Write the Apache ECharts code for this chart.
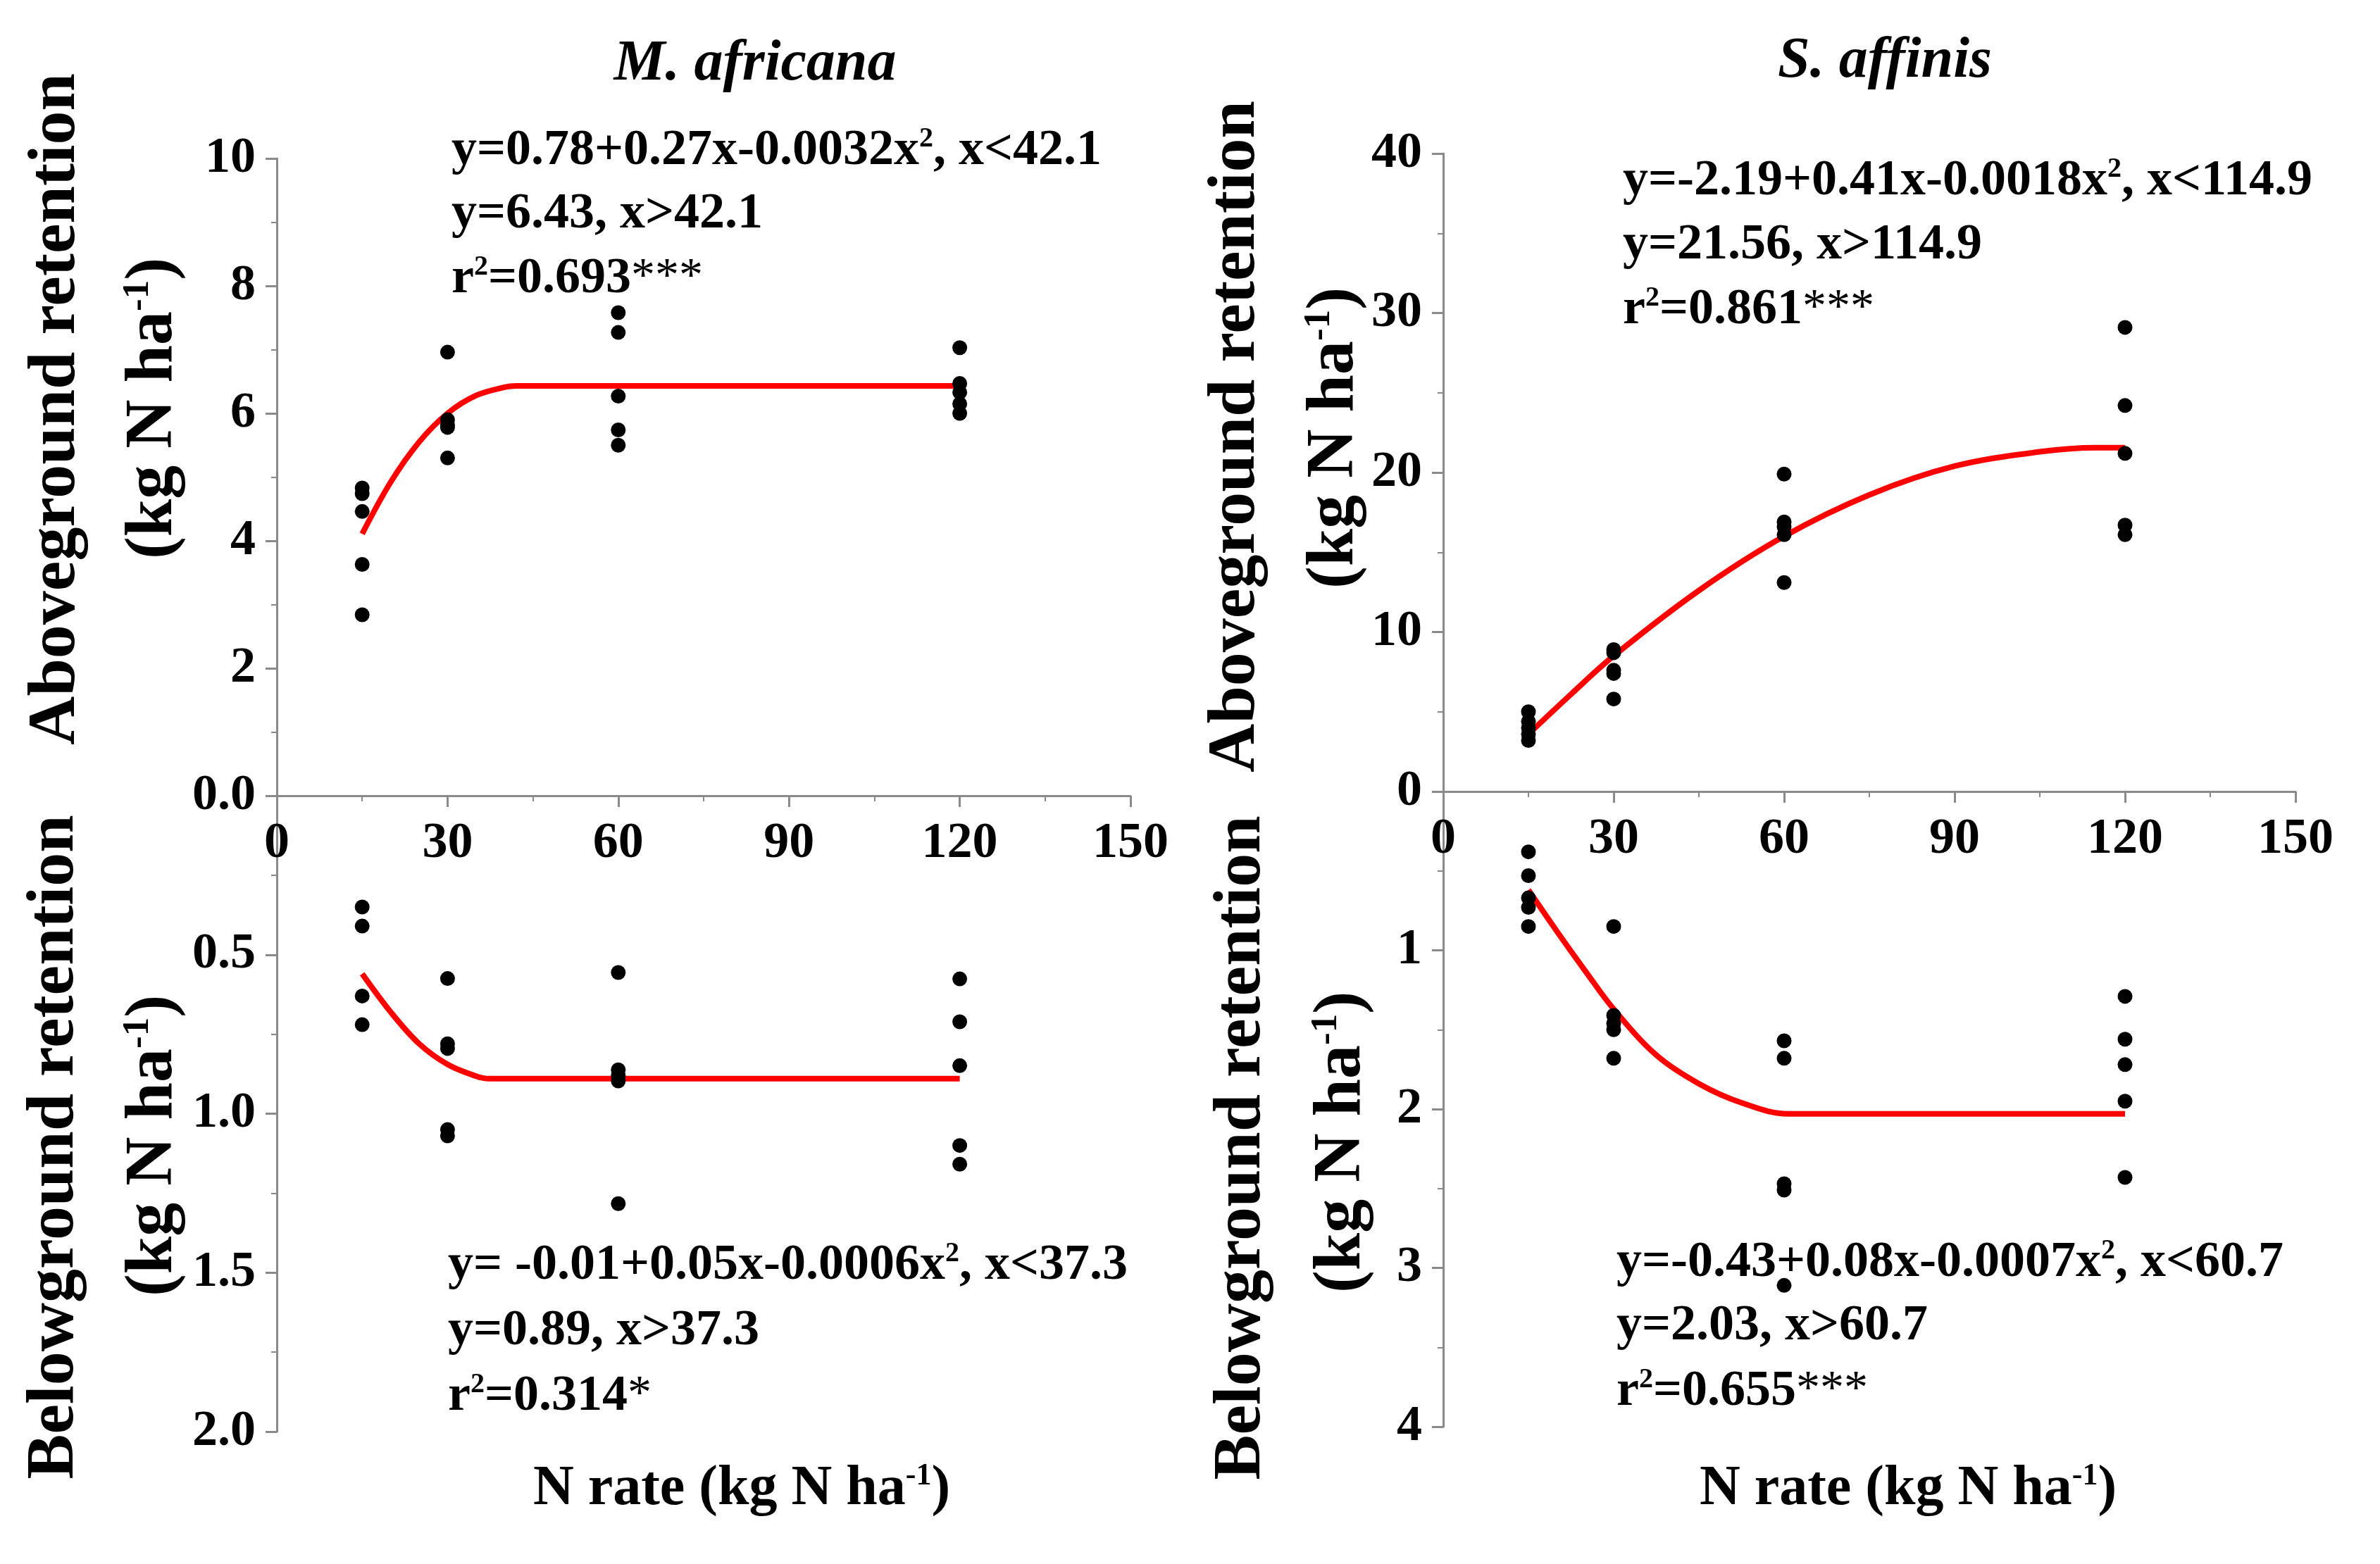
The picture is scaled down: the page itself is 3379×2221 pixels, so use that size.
<!DOCTYPE html>
<html>
<head>
<meta charset="utf-8">
<title>N retention</title>
<script src="https://cdn.jsdelivr.net/npm/echarts@6/dist/echarts.min.js"></script>
<style>
html, body { margin: 0; padding: 0; background: #fff; }
#chart-container { width: 3379px; height: 2221px; }
</style>
</head>
<body>
<div id="chart-container"></div>
<script>
// N rates (x) used for every panel
var nRates = [15, 30, 60, 120];

// observed points, one row per N rate
var maAbove = [
  [4.83, 4.74, 4.46, 3.63, 2.84],
  [6.96, 5.90, 5.82, 5.78, 5.30],
  [7.58, 7.27, 6.27, 5.74, 5.50],
  [7.03, 6.47, 6.33, 6.15, 6.00]
];
var maBelow = [
  [0.35, 0.41, 0.63, 0.72],
  [0.575, 0.78, 0.795, 1.05, 1.07],
  [0.556, 0.862, 0.881, 0.897, 1.283],
  [0.576, 0.711, 0.849, 1.10, 1.159]
];
var saAbove = [
  [5.0, 4.4, 4.0, 3.6, 3.2],
  [8.9, 8.7, 7.6, 7.4, 5.8],
  [19.9, 16.9, 16.6, 16.1, 13.1],
  [29.1, 24.2, 21.2, 16.7, 16.1]
];
var saBelow = [
  [0.38, 0.53, 0.67, 0.73, 0.85],
  [0.85, 1.41, 1.46, 1.50, 1.68],
  [1.57, 1.68, 2.47, 2.51, 3.11],
  [1.29, 1.56, 1.72, 1.95, 2.43]
];

// fitted curves
var maAboveFitX = [15, 20, 25, 30, 35, 40, 42.1, 120];
var maAboveFitY = [4.11, 4.92, 5.55, 6.00, 6.28, 6.41, 6.43, 6.43];
var maBelowFitX = [15, 20, 25, 30, 35, 37.3, 120];
var maBelowFitY = [0.56, 0.68, 0.78, 0.845, 0.882, 0.89, 0.89];
var saAboveFitX = [15, 22.5, 30, 45, 60, 75, 90, 105, 114.9, 120];
var saAboveFitY = [3.6, 6.1, 8.5, 12.6, 16.0, 18.6, 20.4, 21.3, 21.56, 21.56];
var saBelowFitX = [15, 20, 25, 30, 37.5, 45, 52.5, 60.7, 120];
var saBelowFitY = [0.62, 0.88, 1.13, 1.37, 1.66, 1.84, 1.96, 2.03, 2.03];

// tick values and labels
var maAboveTickVals = [0, 2, 4, 6, 8, 10];
var maAboveTickText = ['0.0', '2', '4', '6', '8', '10'];
var maBelowTickVals = [0, 0.5, 1, 1.5, 2];
var maBelowTickText = ['0.0', '0.5', '1.0', '1.5', '2.0'];
var saAboveTickVals = [0, 10, 20, 30, 40];
var saAboveTickText = ['0', '10', '20', '30', '40'];
var saBelowTickVals = [0, 1, 2, 3, 4];
var saBelowTickText = ['0', '1', '2', '3', '4'];

// texts
var speciesNames = ['M. africana', 'S. affinis'];
var yTitleAbove = 'Aboveground retention';
var yTitleBelow = 'Belowground retention';
var yUnit = '(kg N ha{sup|-1})';
var xTitle = 'N rate (kg N ha{sup|-1})';
var maAboveEq = ['y=0.78+0.27x-0.0032x{sup|2}, x<42.1', 'y=6.43, x>42.1', 'r{sup|2}=0.693{ast|***}'];
var maBelowEq = ['y= -0.01+0.05x-0.0006x{sup|2}, x<37.3', 'y=0.89, x>37.3', 'r{sup|2}=0.314{ast|*}'];
var saAboveEq = ['y=-2.19+0.41x-0.0018x{sup|2}, x<114.9', 'y=21.56, x>114.9', 'r{sup|2}=0.861{ast|***}'];
var saBelowEq = ['y=-0.43+0.08x-0.0007x{sup|2}, x<60.7', 'y=2.03, x>60.7', 'r{sup|2}=0.655{ast|***}'];

var FONT = '"Liberation Serif", "Times New Roman", serif';
var AXIS_GREY = '#8a8a8a';

function pairs(rows) {
  var out = [];
  for (var i = 0; i < rows.length; i++) {
    for (var j = 0; j < rows[i].length; j++) {
      out.push([nRates[i], rows[i][j]]);
    }
  }
  return out;
}

function zip(xs, ys) {
  return xs.map(function (x, i) { return [x, ys[i]]; });
}

function labeller(vals, texts) {
  return function (v) {
    for (var i = 0; i < vals.length; i++) {
      if (Math.abs(vals[i] - v) < 1e-9) return texts[i];
    }
    return '';
  };
}

function richFor(size) {
  return {
    sup: { fontFamily: FONT, fontWeight: 'bold', fontSize: Math.round(size * 0.55), verticalAlign: 'top', fill: '#000' },
    ast: { fontFamily: FONT, fontWeight: 'normal', fontSize: Math.round(size * 0.95), verticalAlign: 'top', fill: '#000' }
  };
}

function txt(x, y, text, size, opts) {
  opts = opts || {};
  return {
    type: 'text',
    x: x,
    y: y,
    rotation: opts.rot || 0,
    style: {
      text: text,
      fontFamily: FONT,
      fontSize: size,
      fontWeight: 'bold',
      fontStyle: opts.italic ? 'italic' : 'normal',
      fill: '#000',
      align: opts.align || 'left',
      verticalAlign: 'middle',
      rich: richFor(size)
    }
  };
}

function eqBlock(x, ys, lines) {
  return lines.map(function (l, i) { return txt(x, ys[i], l, 72); });
}

function xAxisCfg(grid, show) {
  return {
    type: 'value', gridIndex: grid, min: 0, max: 150, interval: 30, show: show,
    axisLine: { show: true, onZero: false, lineStyle: { color: AXIS_GREY, width: 3 } },
    axisTick: { show: true, length: 16, lineStyle: { color: AXIS_GREY, width: 3 } },
    minorTick: { show: true, splitNumber: 2, length: 8, lineStyle: { color: AXIS_GREY, width: 2 } },
    axisLabel: { fontFamily: FONT, fontWeight: 'bold', fontSize: 72, color: '#000', margin: 32 },
    splitLine: { show: false }
  };
}

function yAxisCfg(grid, max, interval, inverse, vals, texts) {
  return {
    type: 'value', gridIndex: grid, min: 0, max: max, interval: interval, inverse: inverse,
    axisLine: { show: true, lineStyle: { color: AXIS_GREY, width: 3 } },
    axisTick: { show: true, length: 16, lineStyle: { color: AXIS_GREY, width: 3 } },
    minorTick: { show: true, splitNumber: 2, length: 8, lineStyle: { color: AXIS_GREY, width: 2 } },
    axisLabel: {
      fontFamily: FONT, fontWeight: 'bold', fontSize: 72, color: '#000', margin: 30,
      showMinLabel: !inverse,
      formatter: labeller(vals, texts)
    },
    splitLine: { show: false }
  };
}

function scatterSeries(idx, rows) {
  return {
    type: 'scatter', xAxisIndex: idx, yAxisIndex: idx, data: pairs(rows),
    symbolSize: 21, itemStyle: { color: '#000', opacity: 1 }, z: 3
  };
}

function fitSeries(idx, xs, ys) {
  return {
    type: 'line', xAxisIndex: idx, yAxisIndex: idx, data: zip(xs, ys),
    smooth: 0.35, showSymbol: false, symbol: 'none',
    lineStyle: { color: '#ff0000', width: 8 }, z: 2
  };
}

var dom = document.getElementById('chart-container');
var myChart = echarts.init(dom, null, { renderer: 'canvas' });

var graphics = [
  txt(1072, 92, speciesNames[0], 82, { italic: true, align: 'center' }),
  txt(2676, 88, speciesNames[1], 82, { italic: true, align: 'center' }),

  txt(80, 581, yTitleAbove, 96, { rot: Math.PI / 2, align: 'center' }),
  txt(218, 580, yUnit, 96, { rot: Math.PI / 2, align: 'center' }),
  txt(78, 1629, yTitleBelow, 96, { rot: Math.PI / 2, align: 'center' }),
  txt(218, 1627, yUnit, 96, { rot: Math.PI / 2, align: 'center' }),
  txt(1755, 620, yTitleAbove, 96, { rot: Math.PI / 2, align: 'center' }),
  txt(1895, 622, yUnit, 96, { rot: Math.PI / 2, align: 'center' }),
  txt(1763, 1630, yTitleBelow, 96, { rot: Math.PI / 2, align: 'center' }),
  txt(1905, 1622, yUnit, 96, { rot: Math.PI / 2, align: 'center' }),

  txt(1053, 2115, xTitle, 80, { align: 'center' }),
  txt(2709, 2115, xTitle, 80, { align: 'center' })
]
  .concat(eqBlock(641, [214, 304, 396], maAboveEq))
  .concat(eqBlock(636, [1797, 1890, 1983], maBelowEq))
  .concat(eqBlock(2304, [257, 348, 440], saAboveEq))
  .concat(eqBlock(2295, [1793, 1883, 1976], saBelowEq));

var option = {
  animation: false,
  backgroundColor: '#fff',
  grid: [
    { left: 393, top: 225, width: 1212, height: 905 },
    { left: 393, top: 1130, width: 1212, height: 903 },
    { left: 2049, top: 218, width: 1210, height: 906 },
    { left: 2049, top: 1124, width: 1210, height: 902 }
  ],
  xAxis: [
    xAxisCfg(0, true),
    xAxisCfg(1, false),
    xAxisCfg(2, true),
    xAxisCfg(3, false)
  ],
  yAxis: [
    yAxisCfg(0, 10, 2, false, maAboveTickVals, maAboveTickText),
    yAxisCfg(1, 2, 0.5, true, maBelowTickVals, maBelowTickText),
    yAxisCfg(2, 40, 10, false, saAboveTickVals, saAboveTickText),
    yAxisCfg(3, 4, 1, true, saBelowTickVals, saBelowTickText)
  ],
  series: [
    fitSeries(0, maAboveFitX, maAboveFitY),
    scatterSeries(0, maAbove),
    fitSeries(1, maBelowFitX, maBelowFitY),
    scatterSeries(1, maBelow),
    fitSeries(2, saAboveFitX, saAboveFitY),
    scatterSeries(2, saAbove),
    fitSeries(3, saBelowFitX, saBelowFitY),
    scatterSeries(3, saBelow)
  ],
  graphic: graphics
};

myChart.setOption(option);
window.addEventListener('resize', myChart.resize);
</script>
</body>
</html>
